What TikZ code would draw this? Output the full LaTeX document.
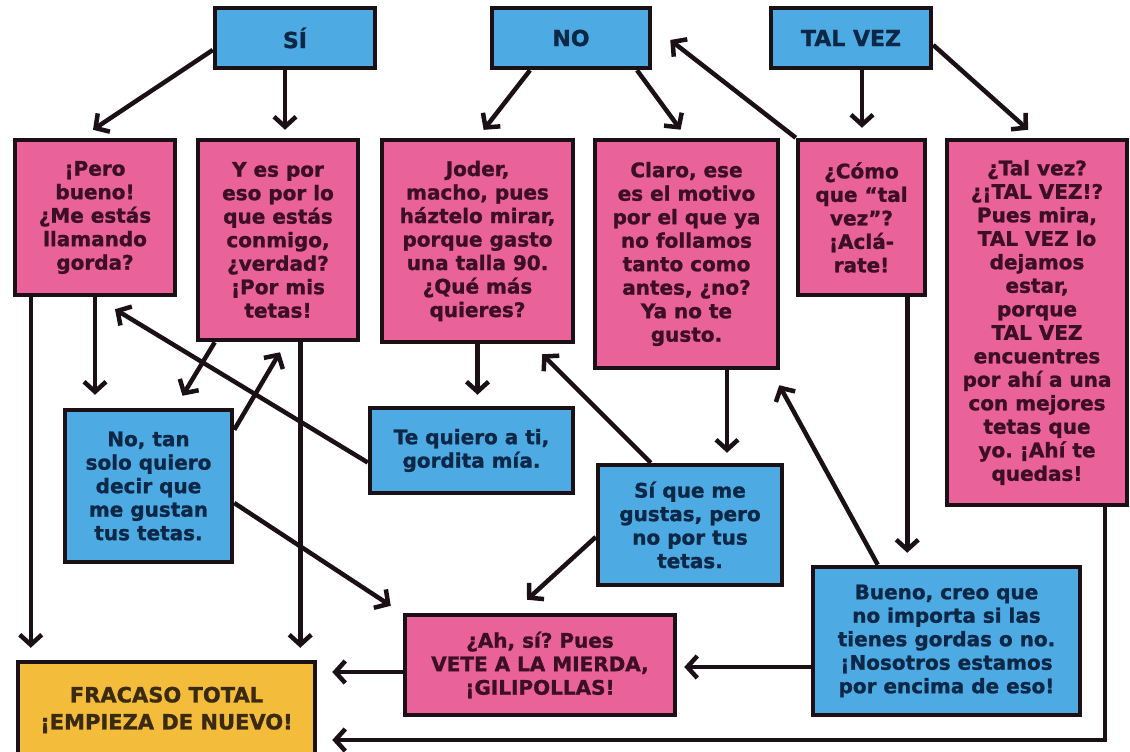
\documentclass[tikz,border=0pt]{standalone}
\usepackage{fontspec}
\setmainfont{DejaVu Sans}[BoldFeatures={FakeBold=1.2}]
\frenchspacing
\usetikzlibrary{arrows.meta,calc}
\definecolor{pinkbox}{HTML}{E9629A}
\definecolor{bluebox}{HTML}{4DAAE3}
\definecolor{yellowbox}{HTML}{F3BC3A}
\definecolor{edgec}{HTML}{1A1016}
\definecolor{pinktext}{HTML}{3D0F25}
\definecolor{bluetext}{HTML}{0D2847}
\definecolor{yellowtext}{HTML}{3B2A12}
\tikzset{
  box/.style={draw=edgec, line width=4.5pt, align=center, inner sep=2pt,
    font=\bfseries\fontsize{20}{23.5}\selectfont},
  pinkb/.style={box, fill=pinkbox, text=pinktext},
  blueb/.style={box, fill=bluebox, text=bluetext},
  headb/.style={box, fill=bluebox, text=bluetext, font=\bfseries\fontsize{22}{26}\selectfont},
  failb/.style={box, fill=yellowbox, text=yellowtext, font=\bfseries\fontsize{21}{27}\selectfont},
  arr/.style={draw=edgec, line width=4.5pt, -{Straight Barb[length=10pt,width=22pt]}}
}
\begin{document}
\begin{tikzpicture}[x=1pt,y=-1pt]
\useasboundingbox[fill=white] (0,0) rectangle (1130,752);
% header boxes
\node[headb, minimum width=160pt, minimum height=60pt] (si) at (295,38) {SÍ};
\node[headb, minimum width=158pt, minimum height=60pt] (no) at (571,38) {NO};
\node[headb, minimum width=160pt, minimum height=60pt] (talvez) at (851,38) {TAL VEZ};
% pink row
\node[pinkb, minimum width=160pt, minimum height=155pt] (p1) at (95,217.5)
  {¡Pero\\bueno!\\¿Me estás\\llamando\\gorda?};
\node[pinkb, minimum width=160pt, minimum height=200pt] (p2) at (278,240)
  {Y es por\\eso por lo\\que estás\\conmigo,\\¿verdad?\\¡Por mis\\tetas!};
\node[pinkb, minimum width=191pt, minimum height=202pt] (p3) at (477.5,241)
  {Joder,\\macho, pues\\háztelo mirar,\\porque gasto\\una talla 90.\\¿Qué más\\quieres?};
\node[pinkb, minimum width=183pt, minimum height=228pt] (p4) at (686.5,254)
  {Claro, ese\\es el motivo\\por el que ya\\no follamos\\tanto como\\antes, ¿no?\\Ya no te\\gusto.};
\node[pinkb, minimum width=127pt, minimum height=155pt] (p5) at (861.5,217.5)
  {¿Cómo\\que “tal\\vez”?\\¡Aclá-\\rate!};
\node[pinkb, minimum width=180pt, minimum height=365pt] (p6) at (1037,322.5)
  {¿Tal vez?\\¿¡TAL VEZ!?\\Pues mira,\\TAL VEZ lo\\dejamos\\estar,\\porque\\TAL VEZ\\encuentres\\por ahí a una\\con mejores\\tetas que\\yo. ¡Ahí te\\quedas!};
% blue answers
\node[blueb, minimum width=167pt, minimum height=152pt] (b1) at (148.5,486)
  {No, tan\\solo quiero\\decir que\\me gustan\\tus tetas.};
\node[blueb, minimum width=203pt, minimum height=85pt] (b2) at (471.5,450.5)
  {Te quiero a ti,\\gordita mía.};
\node[blueb, minimum width=184pt, minimum height=120pt] (b3) at (690,525)
  {Sí que me\\gustas, pero\\no por tus\\tetas.};
\node[blueb, minimum width=267pt, minimum height=148pt] (b4) at (946.5,641)
  {Bueno, creo que\\no importa si las\\tienes gordas o no.\\¡Nosotros estamos\\por encima de eso!};
\node[pinkb, minimum width=270pt, minimum height=100pt] (p7) at (540,665)
  {¿Ah, sí? Pues\\VETE A LA MIERDA,\\¡GILIPOLLAS!};
\node[failb, minimum width=297pt, minimum height=96pt] (fail) at (166.5,710)
  {FRACASO TOTAL\\¡EMPIEZA DE NUEVO!};
% connectors
\draw[arr] ([yshift=-12pt]si.west) -- ([xshift=-2pt,yshift=8pt]p1.north);
\draw[arr, shorten >=8pt] ([xshift=-10pt]si.south) -- ([xshift=-10pt]si.south |- p2.north);
\draw[arr, shorten >=10pt] ([xshift=-41pt]no.south) -- (p3.north);
\draw[arr, shorten >=10pt] ([xshift=66pt]no.south) -- (p4.north);
\draw[arr] (p5.north west) -- ([xshift=18pt,yshift=-2pt]no.east);
\draw[arr, shorten >=10pt] ([xshift=11pt]talvez.south) -- ([xshift=11pt]talvez.south |- p5.north);
\draw[arr, shorten >=12pt] ([yshift=-7pt]talvez.east) -- (p6.north);
\draw[arr, shorten >=13pt] (p1.south) -- (p1.south |- b1.north);
\draw[arr, shorten >=12pt] ([xshift=18pt]p1.south west) -- ([xshift=18pt]p1.south west |- fail.north);
\draw[arr] ([xshift=19pt]p2.south west) -- ([xshift=34pt,yshift=12pt]b1.north);
\draw[arr] ([yshift=-22pt]b1.north east) -- ([xshift=2pt,yshift=-10pt]p2.south);
\draw[arr] ([yshift=-12pt]b2.west) -- ([xshift=20pt,yshift=-12pt]p1.south);
\draw[arr, shorten >=12pt] ([xshift=-60pt]p2.south east) -- ([xshift=-60pt]p2.south east |- fail.north);
\draw[arr] ([yshift=-17pt]b1.east) -- ([xshift=-12pt,yshift=7pt]p7.north west);
\draw[arr, shorten >=11pt] (p3.south) -- (p3.south |- b2.north);
\draw[arr] ([xshift=55pt]b3.north west) -- ([xshift=-33pt,yshift=-10pt]p3.south east);
\draw[arr, shorten >=10pt] ([xshift=40.5pt]p4.south) -- ([xshift=40.5pt]p4.south |- b3.north);
\draw[arr] ([yshift=-12pt]b3.west) -- ([xshift=-13pt,yshift=13pt]p7.north);
\draw[arr] ([xshift=67pt]b4.north west) -- ([xshift=-1pt,yshift=-15pt]p4.south east);
\draw[arr, shorten >=12pt] ([xshift=-20pt]p5.south east) -- ([xshift=-20pt]p5.south east |- b4.north);
\draw[arr, shorten >=7pt] ([yshift=-26pt]b4.west) -- ([yshift=-26pt]b4.west -| p7.east);
\draw[arr, shorten >=15pt] ([yshift=-7pt]p7.west) -- ([yshift=-7pt]p7.west -| fail.east);
\draw[arr, shorten >=15pt] ([xshift=68pt]p6.south) |- ([yshift=-30pt]fail.east);
\end{tikzpicture}
\end{document}
